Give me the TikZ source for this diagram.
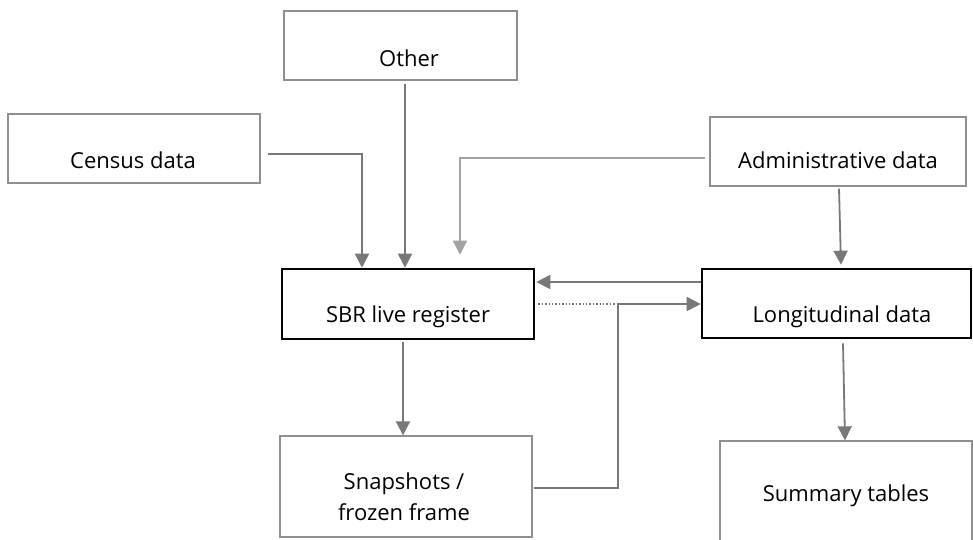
\documentclass[tikz,border=0pt]{standalone}
\usepackage{fontspec}
\setmainfont{Open Sans}
\usetikzlibrary{arrows.meta,calc}
\definecolor{boxgray}{HTML}{8F8F8F}
\definecolor{arrgray}{HTML}{787878}
\definecolor{lightarr}{HTML}{A3A3A3}
\begin{document}
\begin{tikzpicture}[x=1pt,y=-1pt,
  thinbox/.style={draw=boxgray,line width=1.3pt,minimum width=#1,inner sep=0pt,rectangle},
  thickbox/.style={draw=black,line width=2.6pt,minimum width=#1,inner sep=0pt,rectangle},
  lbl/.style={anchor=base,font=\fontsize{22}{30}\selectfont,inner sep=0pt},
  arr/.style={draw=arrgray,line width=1.8pt,-{Triangle[length=14pt,width=14pt]}},
  larr/.style={draw=lightarr,line width=1.6pt,-{Triangle[length=14pt,width=14pt]}}]
\clip (0,0) rectangle (973,539);
\fill[white] (0,0) rectangle (973,539);
% boxes
\node[thinbox=233pt,minimum height=69pt] (other) at (400.5,45.5) {};
\node[thinbox=252pt,minimum height=69pt] (census) at (134,148.5) {};
\node[thinbox=256pt,minimum height=69pt] (admin) at (838,151.5) {};
\node[thickbox=252pt,minimum height=70pt] (sbr) at (408,304) {};
\node[thickbox=269pt,minimum height=69pt] (long) at (836.5,303.5) {};
\node[thinbox=252pt,minimum height=101pt] (snap) at (406,486.5) {};
\node[thinbox=252pt,minimum height=119pt] (summ) at (846,500.5) {};
% labels
\node[lbl] (tother) at (409,66) {Other};
\node[lbl] (tcensus) at (133,168) {Census data};
\node[lbl] (tadmin) at (838,168) {Administrative data};
\node[lbl] (tsbr) at (408,322) {SBR live register};
\node[lbl] (tlong) at (842,322) {Longitudinal data};
\node[lbl] (tsnap1) at (404,489) {Snapshots /};
\node[lbl] (tsnap2) at (404,520) {frozen frame};
\node[lbl] (tsumm) at (846,501) {Summary tables};
% connector points
\coordinate (c1) at (362,154);
\coordinate (a1) at (460,158);
\coordinate (j1) at (618,304);
\coordinate (j2) at (618,488);
% connectors
\draw[arr] ($(census.east)+(7,5.5)$) -- (c1) -- (c1 |- sbr.north);
\draw[arr] ($(other.south)+(4.5,3)$) -- ($(other.south |- sbr.north)+(4.5,0)$);
\draw[larr] ($(admin.west)+(-4,6.5)$) -- (a1) -- ($(a1 |- sbr.north)+(0,-13)$);
\draw[arr] ($(admin.south)+(1,2)$) -- ($(long.north)+(4.5,-3)$);
\draw[arr] ($(long.west)+(0,-21.5)$) -- ($(sbr.east)+(1,-22)$);
\draw[draw=arrgray,line width=1.4pt,dotted] ($(sbr.east)+(3,0)$) -- (j1);
\draw[arr] ($(snap.east)+(1,1.5)$) -- (j2) -- (j1) -- (long.west |- j1);
\draw[arr] ($(sbr.south)+(-5,2)$) -- ($(snap.north)+(-3,0)$);
\draw[arr] ($(long.south)+(6.5,4)$) -- ($(summ.north)+(-1,0)$);
\end{tikzpicture}
\end{document}
